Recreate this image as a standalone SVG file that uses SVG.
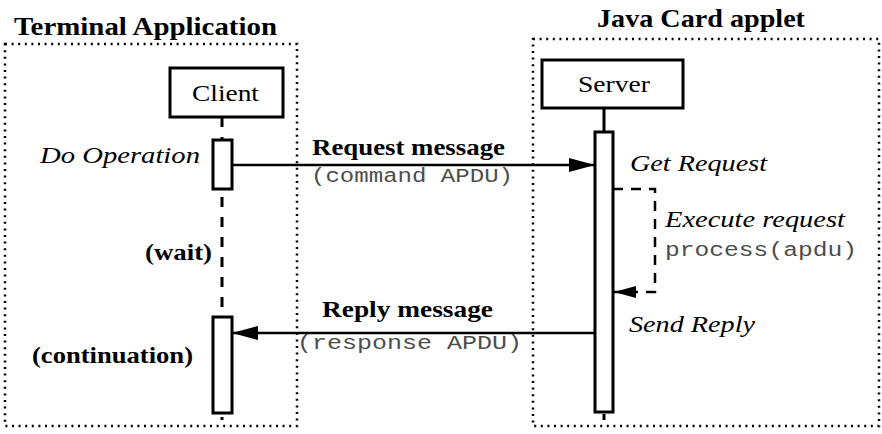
<svg xmlns="http://www.w3.org/2000/svg" width="882" height="434" viewBox="0 0 882 434">
  <defs>
    <style>
      .frame { fill: none; stroke: #000; stroke-width: 2.5; stroke-dasharray: 2 4.6; }
      .box { fill: #fff; stroke: #000; stroke-width: 3; }
      .act { fill: #fff; stroke: #000; stroke-width: 3; }
      .life { fill: none; stroke: #000; stroke-width: 3; stroke-dasharray: 10 10; }
      .msg { fill: none; stroke: #000; stroke-width: 2.5; }
      .self { fill: none; stroke: #000; stroke-width: 2.5; stroke-dasharray: 10 8; }
      .title { font-family: "Liberation Serif", "DejaVu Serif", serif; font-weight: bold; font-size: 25px; fill: #000; }
      .name { font-family: "Liberation Serif", "DejaVu Serif", serif; font-weight: normal; font-size: 23px; fill: #000; }
      .label { font-family: "Liberation Serif", "DejaVu Serif", serif; font-weight: bold; font-size: 23px; fill: #000; }
      .step { font-family: "Liberation Serif", "DejaVu Serif", serif; font-style: italic; font-size: 23px; fill: #000; }
      .code { font-family: "Liberation Mono", "DejaVu Sans Mono", monospace; font-size: 20px; fill: #4d4d4d; }
    </style>
    <marker id="head" viewBox="0 0 26 14" refX="26" refY="7" markerWidth="26" markerHeight="14" markerUnits="userSpaceOnUse" orient="auto">
      <path d="M0,0 L26,7 L0,14 z" fill="#000"/>
    </marker>
    <marker id="headSmall" viewBox="0 0 22 12" refX="22" refY="6" markerWidth="22" markerHeight="12" markerUnits="userSpaceOnUse" orient="auto">
      <path d="M0,0 L22,6 L0,12 z" fill="#000"/>
    </marker>
  </defs>

  <rect width="882" height="434" fill="#fff"/>

  <!-- enclosing frames -->
  <g id="terminal-frame">
    <rect class="frame" x="5" y="44" width="292" height="382"/>
    <text class="title" x="14" y="35" textLength="263" lengthAdjust="spacingAndGlyphs">Terminal Application</text>
  </g>
  <g id="card-frame">
    <rect class="frame" x="533" y="39" width="346" height="387"/>
    <text class="title" x="597" y="27" textLength="208" lengthAdjust="spacingAndGlyphs">Java Card applet</text>
  </g>

  <!-- lifelines -->
  <g id="lifelines">
    <line class="life" x1="222" y1="117" x2="222" y2="420"/>
    <line class="life" x1="604" y1="108" x2="604" y2="420" style="stroke-dasharray: 24 10"/>
  </g>

  <!-- participants -->
  <g id="client">
    <rect class="box" x="170" y="68" width="113" height="49"/>
    <text class="name" x="192" y="101" textLength="67" lengthAdjust="spacingAndGlyphs">Client</text>
  </g>
  <g id="server">
    <rect class="box" x="542" y="60" width="141" height="48"/>
    <text class="name" x="578" y="92" textLength="72" lengthAdjust="spacingAndGlyphs">Server</text>
  </g>

  <!-- activations -->
  <g id="client-operation">
    <rect class="act" x="213" y="140" width="19" height="49"/>
    <text class="step" x="40" y="163" textLength="160" lengthAdjust="spacingAndGlyphs">Do Operation</text>
  </g>
  <g id="client-wait">
    <text class="label" x="145" y="260" textLength="67" lengthAdjust="spacingAndGlyphs">(wait)</text>
  </g>
  <g id="client-continuation">
    <rect class="act" x="213" y="317" width="19" height="96"/>
    <text class="label" x="32" y="363" textLength="161" lengthAdjust="spacingAndGlyphs">(continuation)</text>
  </g>
  <g id="server-activation">
    <rect class="act" x="595" y="132" width="18" height="280"/>
    <text class="step" x="630" y="171" textLength="137" lengthAdjust="spacingAndGlyphs">Get Request</text>
    <text class="step" x="665" y="227" textLength="180" lengthAdjust="spacingAndGlyphs">Execute request</text>
    <text class="code" x="665" y="256" textLength="192" lengthAdjust="spacingAndGlyphs">process(apdu)</text>
    <text class="step" x="629" y="332" textLength="126" lengthAdjust="spacingAndGlyphs">Send Reply</text>
  </g>

  <!-- messages -->
  <g id="connectors">
    <line class="msg" x1="232" y1="165" x2="595" y2="165" marker-end="url(#head)"/>
    <line class="msg" x1="595" y1="333" x2="232" y2="333" marker-end="url(#head)"/>
    <polyline class="self" points="613,189 655,189 655,292 614,292" marker-end="url(#headSmall)"/>
  </g>

  <g id="message-labels">
    <text class="label" x="312" y="155" textLength="193" lengthAdjust="spacingAndGlyphs">Request message</text>
    <text class="code" x="311" y="182" textLength="202" lengthAdjust="spacingAndGlyphs">(command APDU)</text>
    <text class="label" x="322" y="317" textLength="171" lengthAdjust="spacingAndGlyphs">Reply message</text>
    <text class="code" x="297" y="349" textLength="225" lengthAdjust="spacingAndGlyphs">(response APDU)</text>
  </g>
</svg>
